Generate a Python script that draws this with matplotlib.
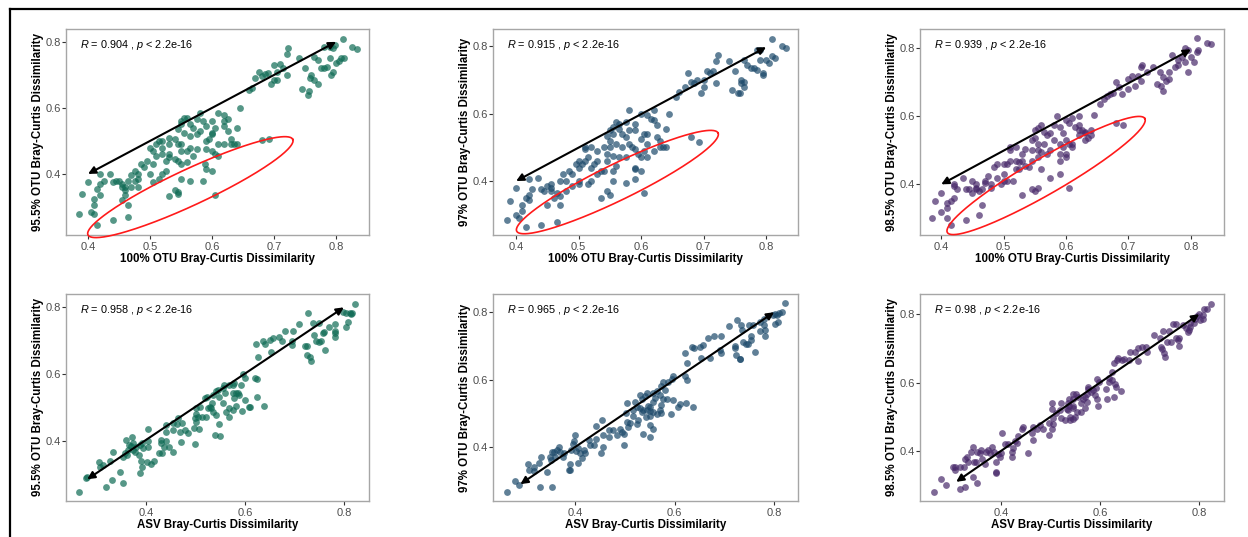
import numpy as np
import matplotlib
matplotlib.use("Agg")
import matplotlib.pyplot as plt
from matplotlib.lines import Line2D

plt.rcParams['font.family'] = ['Liberation Sans', 'DejaVu Sans']
plt.rcParams['mathtext.fontset'] = 'custom'
plt.rcParams['mathtext.rm'] = 'Liberation Sans'
plt.rcParams['mathtext.it'] = 'Liberation Sans:italic'

# ---------------------------------------------------------------- data ----
# 95.5% OTU vs 100% OTU
otu955_vs_otu100 = [
    (0.811, 0.81), (0.826, 0.784), (0.833, 0.777), (0.798, 0.79), (0.79, 0.785), (0.78, 0.785),
    (0.795, 0.78), (0.805, 0.742), (0.813, 0.752), (0.808, 0.752), (0.80, 0.735), (0.79, 0.75),
    (0.795, 0.71), (0.792, 0.70), (0.78, 0.72), (0.775, 0.72), (0.785, 0.725), (0.77, 0.745),
    (0.765, 0.755), (0.76, 0.70), (0.758, 0.69), (0.765, 0.685), (0.77, 0.672), (0.75, 0.72),
    (0.745, 0.657), (0.755, 0.64), (0.757, 0.652), (0.74, 0.75), (0.72, 0.762), (0.723, 0.78),
    (0.71, 0.733), (0.715, 0.72), (0.72, 0.70), (0.70, 0.73), (0.705, 0.71), (0.70, 0.685),
    (0.69, 0.706), (0.685, 0.704), (0.695, 0.672), (0.68, 0.698), (0.675, 0.71), (0.67, 0.69),
    (0.665, 0.66), (0.66, 0.655), (0.705, 0.685),
    (0.645, 0.601), (0.64, 0.54), (0.625, 0.565), (0.62, 0.58), (0.61, 0.585), (0.60, 0.56),
    (0.605, 0.54), (0.62, 0.545), (0.625, 0.53), (0.63, 0.505), (0.635, 0.49), (0.62, 0.49),
    (0.61, 0.49), (0.60, 0.52), (0.60, 0.525), (0.59, 0.545), (0.585, 0.56), (0.58, 0.585),
    (0.575, 0.565), (0.58, 0.53), (0.57, 0.54), (0.565, 0.55), (0.56, 0.57), (0.555, 0.57),
    (0.55, 0.56), (0.55, 0.55), (0.545, 0.535), (0.555, 0.525), (0.565, 0.515), (0.575, 0.52),
    (0.59, 0.50), (0.595, 0.505), (0.59, 0.475), (0.575, 0.475), (0.565, 0.48), (0.56, 0.47),
    (0.55, 0.49), (0.545, 0.49), (0.54, 0.505), (0.53, 0.49), (0.53, 0.51), (0.52, 0.50),
    (0.515, 0.50), (0.505, 0.47), (0.51, 0.455), (0.52, 0.46), (0.525, 0.44), (0.53, 0.45),
    (0.54, 0.445), (0.545, 0.44), (0.55, 0.43), (0.56, 0.435), (0.52, 0.48), (0.60, 0.47),
    (0.61, 0.455), (0.605, 0.46), (0.588, 0.43), (0.59, 0.415), (0.60, 0.41), (0.585, 0.378),
    (0.565, 0.378), (0.55, 0.385), (0.545, 0.345), (0.545, 0.34), (0.54, 0.35), (0.53, 0.332),
    (0.605, 0.335), (0.52, 0.40), (0.515, 0.385), (0.525, 0.41), (0.505, 0.43), (0.495, 0.44),
    (0.49, 0.42), (0.50, 0.40), (0.505, 0.375), (0.48, 0.40), (0.48, 0.385), (0.485, 0.43),
    (0.475, 0.41), (0.47, 0.36), (0.465, 0.38), (0.46, 0.35), (0.455, 0.37), (0.45, 0.38),
    (0.455, 0.36), (0.445, 0.38), (0.44, 0.375), (0.435, 0.40), (0.455, 0.32), (0.46, 0.335),
    (0.465, 0.305), (0.465, 0.27), (0.44, 0.26), (0.425, 0.38), (0.42, 0.37), (0.42, 0.40),
    (0.415, 0.355), (0.42, 0.335), (0.41, 0.325), (0.41, 0.305), (0.405, 0.285), (0.41, 0.28),
    (0.40, 0.375), (0.39, 0.34), (0.385, 0.28), (0.415, 0.245), (0.47, 0.398), (0.48, 0.36),
    (0.46, 0.36), (0.475, 0.38), (0.50, 0.48), (0.57, 0.455), (0.63, 0.49), (0.64, 0.49),
    (0.68, 0.502), (0.692, 0.505), (0.62, 0.56), (0.51, 0.49), (0.53, 0.46), (0.55, 0.47),
]

# 97% OTU vs 100% OTU
otu97_vs_otu100 = [
    (0.81, 0.82), (0.825, 0.80), (0.832, 0.795), (0.79, 0.79), (0.785, 0.79), (0.80, 0.76),
    (0.81, 0.77), (0.815, 0.765), (0.805, 0.75), (0.79, 0.76), (0.795, 0.72), (0.795, 0.715),
    (0.78, 0.735), (0.775, 0.735), (0.785, 0.73), (0.77, 0.745), (0.765, 0.76), (0.76, 0.70),
    (0.76, 0.69), (0.765, 0.695), (0.765, 0.68), (0.755, 0.66), (0.758, 0.66), (0.745, 0.67),
    (0.75, 0.725), (0.74, 0.755), (0.72, 0.755), (0.723, 0.775), (0.715, 0.725), (0.71, 0.72),
    (0.72, 0.69), (0.70, 0.70), (0.705, 0.725), (0.69, 0.70), (0.695, 0.66), (0.70, 0.68),
    (0.68, 0.695), (0.675, 0.72), (0.67, 0.68), (0.66, 0.665), (0.655, 0.65), (0.685, 0.69),
    (0.645, 0.60), (0.64, 0.555), (0.625, 0.565), (0.62, 0.61), (0.61, 0.595), (0.615, 0.585),
    (0.60, 0.60), (0.605, 0.54), (0.61, 0.54), (0.625, 0.53), (0.63, 0.52), (0.635, 0.50),
    (0.62, 0.49), (0.61, 0.51), (0.60, 0.525), (0.59, 0.55), (0.59, 0.57), (0.58, 0.61),
    (0.58, 0.55), (0.575, 0.575), (0.575, 0.53), (0.57, 0.54), (0.565, 0.57), (0.565, 0.555),
    (0.56, 0.575), (0.555, 0.56), (0.55, 0.55), (0.555, 0.54), (0.545, 0.535), (0.55, 0.52),
    (0.56, 0.51), (0.57, 0.50), (0.58, 0.51), (0.585, 0.50), (0.59, 0.495), (0.595, 0.48),
    (0.575, 0.47), (0.565, 0.47), (0.555, 0.475), (0.55, 0.50), (0.54, 0.50), (0.545, 0.48),
    (0.53, 0.49), (0.52, 0.50), (0.51, 0.495), (0.505, 0.45), (0.51, 0.46), (0.515, 0.47),
    (0.52, 0.44), (0.525, 0.45), (0.535, 0.43), (0.54, 0.43), (0.545, 0.46), (0.555, 0.43),
    (0.50, 0.46), (0.60, 0.47), (0.605, 0.49), (0.61, 0.47), (0.59, 0.44), (0.59, 0.435),
    (0.60, 0.43), (0.59, 0.405), (0.575, 0.395), (0.555, 0.40), (0.545, 0.37), (0.55, 0.36),
    (0.535, 0.35), (0.605, 0.365), (0.52, 0.40), (0.515, 0.39), (0.53, 0.42), (0.50, 0.44),
    (0.495, 0.45), (0.49, 0.42), (0.50, 0.39), (0.48, 0.40), (0.485, 0.43), (0.475, 0.42),
    (0.47, 0.40), (0.465, 0.365), (0.46, 0.35), (0.455, 0.37), (0.45, 0.385), (0.455, 0.38),
    (0.445, 0.37), (0.44, 0.375), (0.435, 0.41), (0.45, 0.33), (0.47, 0.33), (0.465, 0.28),
    (0.44, 0.27), (0.425, 0.375), (0.42, 0.36), (0.42, 0.405), (0.415, 0.35), (0.42, 0.345),
    (0.41, 0.33), (0.41, 0.31), (0.40, 0.30), (0.405, 0.29), (0.40, 0.38), (0.39, 0.34),
    (0.385, 0.285), (0.415, 0.265), (0.48, 0.37), (0.49, 0.385), (0.455, 0.39), (0.51, 0.50),
    (0.53, 0.46), (0.56, 0.445), (0.63, 0.50), (0.64, 0.50), (0.68, 0.53), (0.692, 0.515),
    (0.62, 0.58), (0.50, 0.40), (0.47, 0.355),
]

# 98.5% OTU vs 100% OTU
otu985_vs_otu100 = [
    (0.81, 0.83), (0.825, 0.815), (0.832, 0.812), (0.79, 0.80), (0.795, 0.795), (0.81, 0.79),
    (0.812, 0.795), (0.80, 0.775), (0.805, 0.76), (0.795, 0.73), (0.79, 0.76), (0.785, 0.775),
    (0.78, 0.765), (0.775, 0.745), (0.78, 0.75), (0.77, 0.78), (0.765, 0.73), (0.76, 0.705),
    (0.765, 0.71), (0.755, 0.715), (0.755, 0.675), (0.752, 0.69), (0.745, 0.695), (0.75, 0.73),
    (0.74, 0.745), (0.72, 0.745), (0.722, 0.75), (0.715, 0.72), (0.72, 0.705), (0.70, 0.71),
    (0.71, 0.69), (0.70, 0.68), (0.69, 0.665), (0.685, 0.685), (0.68, 0.70), (0.675, 0.67),
    (0.67, 0.665), (0.66, 0.65), (0.665, 0.66), (0.655, 0.635), (0.705, 0.72), (0.73, 0.73),
    (0.645, 0.605), (0.64, 0.56), (0.625, 0.56), (0.62, 0.60), (0.61, 0.595), (0.605, 0.58),
    (0.60, 0.59), (0.615, 0.57), (0.62, 0.575), (0.63, 0.555), (0.635, 0.535), (0.63, 0.53),
    (0.62, 0.545), (0.61, 0.52), (0.60, 0.53), (0.595, 0.55), (0.59, 0.57), (0.585, 0.60),
    (0.58, 0.575), (0.575, 0.55), (0.57, 0.545), (0.565, 0.555), (0.56, 0.575), (0.555, 0.565),
    (0.55, 0.56), (0.55, 0.535), (0.545, 0.53), (0.555, 0.52), (0.565, 0.52), (0.575, 0.50),
    (0.58, 0.53), (0.59, 0.52), (0.595, 0.51), (0.59, 0.49), (0.57, 0.49), (0.56, 0.495),
    (0.555, 0.50), (0.545, 0.50), (0.535, 0.505), (0.53, 0.49), (0.52, 0.51), (0.51, 0.51),
    (0.505, 0.46), (0.51, 0.47), (0.52, 0.47), (0.525, 0.465), (0.535, 0.455), (0.54, 0.45),
    (0.545, 0.47), (0.555, 0.48), (0.50, 0.46), (0.60, 0.48), (0.605, 0.52), (0.61, 0.51),
    (0.59, 0.47), (0.59, 0.43), (0.60, 0.49), (0.575, 0.42), (0.555, 0.39), (0.55, 0.38),
    (0.545, 0.385), (0.53, 0.37), (0.605, 0.39), (0.52, 0.445), (0.515, 0.41), (0.525, 0.445),
    (0.505, 0.41), (0.50, 0.43), (0.49, 0.42), (0.495, 0.40), (0.48, 0.40), (0.485, 0.45),
    (0.475, 0.425), (0.47, 0.41), (0.465, 0.385), (0.46, 0.38), (0.455, 0.39), (0.45, 0.41),
    (0.455, 0.40), (0.445, 0.385), (0.44, 0.385), (0.435, 0.42), (0.45, 0.375), (0.465, 0.34),
    (0.46, 0.31), (0.44, 0.295), (0.425, 0.385), (0.42, 0.395), (0.42, 0.40), (0.415, 0.35),
    (0.42, 0.36), (0.41, 0.345), (0.41, 0.33), (0.40, 0.32), (0.41, 0.30), (0.40, 0.375),
    (0.39, 0.35), (0.385, 0.30), (0.415, 0.28), (0.47, 0.405), (0.48, 0.39), (0.49, 0.46),
    (0.51, 0.50), (0.53, 0.47), (0.56, 0.445), (0.63, 0.55), (0.64, 0.545), (0.68, 0.58),
    (0.692, 0.575), (0.62, 0.56), (0.50, 0.41), (0.455, 0.385),
]

# 95.5% OTU vs ASV
otu955_vs_asv = [
    (0.823, 0.81), (0.799, 0.785), (0.804, 0.782), (0.812, 0.784), (0.815, 0.779), (0.817, 0.782),
    (0.809, 0.755), (0.804, 0.74), (0.782, 0.75), (0.77, 0.742), (0.782, 0.729), (0.782, 0.712),
    (0.782, 0.722), (0.75, 0.752), (0.737, 0.752), (0.727, 0.782), (0.71, 0.75), (0.739, 0.717),
    (0.743, 0.70), (0.75, 0.697), (0.754, 0.70), (0.757, 0.722), (0.76, 0.727), (0.762, 0.672),
    (0.726, 0.684), (0.722, 0.684), (0.725, 0.657), (0.731, 0.65), (0.733, 0.64),
    (0.694, 0.70), (0.694, 0.687), (0.696, 0.728), (0.68, 0.73), (0.675, 0.70), (0.668, 0.712),
    (0.656, 0.707), (0.65, 0.702), (0.653, 0.667), (0.641, 0.69), (0.636, 0.70), (0.622, 0.69),
    (0.626, 0.652), (0.624, 0.585), (0.619, 0.587), (0.624, 0.53), (0.639, 0.505),
    (0.595, 0.60), (0.599, 0.587), (0.592, 0.567), (0.578, 0.572), (0.575, 0.567), (0.582, 0.542),
    (0.585, 0.542), (0.575, 0.542), (0.578, 0.528), (0.587, 0.537), (0.599, 0.523), (0.607, 0.503),
    (0.61, 0.503), (0.594, 0.491), (0.582, 0.505), (0.575, 0.493), (0.568, 0.498), (0.562, 0.488),
    (0.567, 0.471), (0.548, 0.451), (0.55, 0.415), (0.538, 0.418), (0.535, 0.488), (0.54, 0.478),
    (0.531, 0.50), (0.529, 0.503), (0.532, 0.515), (0.548, 0.53), (0.555, 0.515), (0.56, 0.543),
    (0.555, 0.557), (0.567, 0.567), (0.558, 0.567), (0.545, 0.553), (0.541, 0.548), (0.535, 0.538),
    (0.523, 0.53), (0.518, 0.528), (0.525, 0.498), (0.52, 0.473), (0.513, 0.473), (0.508, 0.503),
    (0.50, 0.50), (0.505, 0.471), (0.498, 0.468), (0.506, 0.435), (0.496, 0.438), (0.484, 0.425),
    (0.478, 0.433), (0.498, 0.391), (0.501, 0.481), (0.50, 0.458), (0.472, 0.455), (0.467, 0.428),
    (0.454, 0.433), (0.461, 0.451), (0.453, 0.453), (0.44, 0.428), (0.44, 0.448), (0.464, 0.468),
    (0.47, 0.398), (0.454, 0.368), (0.445, 0.383), (0.44, 0.401), (0.435, 0.383), (0.43, 0.404),
    (0.43, 0.393), (0.432, 0.363), (0.426, 0.365), (0.415, 0.34), (0.41, 0.331), (0.401, 0.337),
    (0.404, 0.401), (0.404, 0.383), (0.403, 0.436), (0.393, 0.378), (0.39, 0.395), (0.387, 0.388),
    (0.385, 0.358), (0.388, 0.341), (0.39, 0.323), (0.387, 0.305), (0.378, 0.381), (0.376, 0.368),
    (0.372, 0.373), (0.368, 0.385), (0.365, 0.389), (0.358, 0.403), (0.363, 0.373), (0.361, 0.358),
    (0.356, 0.365), (0.353, 0.353), (0.346, 0.308), (0.352, 0.273), (0.333, 0.368), (0.327, 0.341),
    (0.33, 0.283), (0.318, 0.263), (0.304, 0.338), (0.312, 0.328), (0.306, 0.323), (0.28, 0.293),
    (0.277, 0.288), (0.264, 0.248), (0.37, 0.413), (0.373, 0.393),
]

# 97% OTU vs ASV
otu97_vs_asv = [
    (0.821, 0.827), (0.815, 0.802), (0.81, 0.799), (0.806, 0.792), (0.801, 0.795), (0.797, 0.792),
    (0.808, 0.772), (0.801, 0.765), (0.78, 0.779), (0.78, 0.762), (0.781, 0.748), (0.781, 0.728),
    (0.771, 0.772), (0.771, 0.743), (0.758, 0.762), (0.75, 0.762), (0.754, 0.728), (0.754, 0.718),
    (0.748, 0.706), (0.743, 0.706), (0.761, 0.683), (0.738, 0.713), (0.736, 0.748), (0.726, 0.777),
    (0.734, 0.762), (0.71, 0.759), (0.721, 0.70), (0.721, 0.693), (0.723, 0.673), (0.731, 0.66),
    (0.732, 0.66), (0.693, 0.728), (0.693, 0.68), (0.691, 0.688), (0.679, 0.728), (0.668, 0.723),
    (0.671, 0.663), (0.657, 0.703), (0.654, 0.663), (0.652, 0.696), (0.639, 0.693), (0.634, 0.696),
    (0.621, 0.68), (0.625, 0.65), (0.625, 0.599), (0.621, 0.612), (0.623, 0.532), (0.637, 0.518),
    (0.597, 0.612), (0.595, 0.602), (0.587, 0.592), (0.577, 0.592), (0.572, 0.582), (0.581, 0.569),
    (0.577, 0.542), (0.585, 0.542), (0.57, 0.555), (0.564, 0.565), (0.557, 0.559), (0.56, 0.545),
    (0.557, 0.535), (0.572, 0.525), (0.57, 0.51), (0.565, 0.498), (0.572, 0.502), (0.592, 0.498),
    (0.597, 0.539), (0.607, 0.519), (0.611, 0.529), (0.55, 0.52), (0.547, 0.522), (0.544, 0.56),
    (0.54, 0.552), (0.53, 0.555), (0.534, 0.543), (0.52, 0.535), (0.517, 0.51), (0.524, 0.52),
    (0.53, 0.515), (0.534, 0.505), (0.537, 0.51), (0.544, 0.51), (0.55, 0.508), (0.542, 0.49),
    (0.55, 0.493), (0.557, 0.505), (0.55, 0.465), (0.557, 0.455), (0.55, 0.43), (0.536, 0.44),
    (0.524, 0.468), (0.527, 0.48), (0.507, 0.46), (0.504, 0.475), (0.51, 0.472), (0.517, 0.492),
    (0.504, 0.531), (0.502, 0.50), (0.498, 0.438), (0.49, 0.455), (0.494, 0.445), (0.498, 0.406),
    (0.484, 0.437), (0.477, 0.45), (0.469, 0.452), (0.469, 0.431), (0.456, 0.435), (0.454, 0.48),
    (0.442, 0.462), (0.457, 0.401), (0.452, 0.383), (0.442, 0.423), (0.438, 0.406), (0.43, 0.406),
    (0.427, 0.421), (0.42, 0.381), (0.417, 0.391), (0.413, 0.369), (0.405, 0.354), (0.402, 0.389),
    (0.40, 0.436), (0.398, 0.419), (0.396, 0.41), (0.391, 0.391), (0.39, 0.351), (0.39, 0.332),
    (0.387, 0.332), (0.378, 0.383), (0.375, 0.371), (0.37, 0.386), (0.367, 0.399), (0.363, 0.391),
    (0.36, 0.371), (0.357, 0.386), (0.353, 0.386), (0.35, 0.371), (0.351, 0.361), (0.343, 0.327),
    (0.353, 0.282), (0.33, 0.282), (0.318, 0.342), (0.317, 0.33), (0.327, 0.354), (0.308, 0.332),
    (0.305, 0.351), (0.288, 0.287), (0.28, 0.30), (0.264, 0.267), (0.331, 0.371), (0.41, 0.383),
    (0.405, 0.396),
]

# 98.5% OTU vs ASV
otu985_vs_asv = [
    (0.823, 0.83), (0.815, 0.815), (0.81, 0.815), (0.807, 0.798), (0.80, 0.801), (0.796, 0.795),
    (0.808, 0.786), (0.801, 0.783), (0.791, 0.786), (0.789, 0.774), (0.782, 0.774), (0.782, 0.764),
    (0.779, 0.754), (0.777, 0.749), (0.774, 0.759), (0.767, 0.769), (0.754, 0.772), (0.747, 0.772),
    (0.76, 0.73), (0.754, 0.73), (0.757, 0.725), (0.76, 0.707), (0.743, 0.72), (0.736, 0.72),
    (0.74, 0.752), (0.727, 0.752), (0.72, 0.73), (0.723, 0.705), (0.725, 0.698), (0.73, 0.688),
    (0.732, 0.674), (0.709, 0.74), (0.692, 0.703), (0.694, 0.69), (0.684, 0.705), (0.676, 0.70),
    (0.671, 0.69), (0.676, 0.663), (0.659, 0.667), (0.661, 0.69), (0.649, 0.67), (0.644, 0.667),
    (0.637, 0.673), (0.635, 0.666), (0.628, 0.658), (0.624, 0.632), (0.619, 0.613), (0.618, 0.603),
    (0.624, 0.608), (0.63, 0.596), (0.632, 0.586), (0.643, 0.576), (0.628, 0.558), (0.615, 0.553),
    (0.613, 0.581), (0.593, 0.61), (0.597, 0.603), (0.592, 0.583), (0.586, 0.578), (0.581, 0.573),
    (0.576, 0.588), (0.576, 0.58), (0.574, 0.568), (0.59, 0.563), (0.593, 0.553), (0.595, 0.533),
    (0.574, 0.543), (0.569, 0.558), (0.565, 0.553), (0.561, 0.541), (0.556, 0.558), (0.551, 0.568),
    (0.545, 0.566), (0.546, 0.553), (0.538, 0.553), (0.536, 0.541), (0.545, 0.527), (0.538, 0.531),
    (0.533, 0.524), (0.546, 0.533), (0.554, 0.515), (0.561, 0.515), (0.569, 0.527), (0.55, 0.50),
    (0.546, 0.493), (0.54, 0.50), (0.522, 0.539), (0.519, 0.52), (0.522, 0.498), (0.529, 0.49),
    (0.54, 0.49), (0.536, 0.52), (0.512, 0.51), (0.506, 0.496), (0.506, 0.479), (0.503, 0.463),
    (0.504, 0.541), (0.504, 0.522), (0.497, 0.481), (0.498, 0.447), (0.485, 0.463), (0.479, 0.476),
    (0.472, 0.463), (0.465, 0.471), (0.465, 0.432), (0.462, 0.452), (0.455, 0.393), (0.445, 0.471),
    (0.442, 0.463), (0.435, 0.444), (0.432, 0.424), (0.428, 0.43), (0.425, 0.408), (0.422, 0.398),
    (0.422, 0.383), (0.415, 0.422), (0.408, 0.422), (0.403, 0.452), (0.401, 0.395), (0.399, 0.383),
    (0.395, 0.39), (0.391, 0.368), (0.39, 0.339), (0.386, 0.398), (0.383, 0.413), (0.378, 0.393),
    (0.374, 0.403), (0.37, 0.398), (0.368, 0.363), (0.361, 0.403), (0.358, 0.393), (0.351, 0.396),
    (0.35, 0.369), (0.346, 0.369), (0.343, 0.413), (0.339, 0.398), (0.331, 0.383), (0.334, 0.369),
    (0.327, 0.378), (0.325, 0.354), (0.317, 0.352), (0.308, 0.354), (0.304, 0.354), (0.308, 0.344),
    (0.327, 0.296), (0.318, 0.289), (0.344, 0.324), (0.352, 0.307), (0.29, 0.301), (0.28, 0.319),
    (0.265, 0.281), (0.391, 0.335), (0.363, 0.376),
]

# Pearson R shown in each panel
r_values = [0.904, 0.915, 0.939, 0.958, 0.965, 0.98]

x_titles = ["100% OTU Bray-Curtis Dissimilarity"] * 3 + ["ASV Bray-Curtis Dissimilarity"] * 3
y_titles = ["95.5% OTU Bray-Curtis Dissimilarity", "97% OTU Bray-Curtis Dissimilarity",
            "98.5% OTU Bray-Curtis Dissimilarity"] * 2

# --------------------------------------------------------------- layout ---
W, H = 1248, 537
col_px = [(66, 369), (493, 798), (920, 1224)]
row_px = [(29, 235), (294, 501)]

point_colors = ['#0f6b55', '#1d4a6b', '#48296a']

panels = [otu955_vs_otu100, otu97_vs_otu100, otu985_vs_otu100,
          otu955_vs_asv, otu97_vs_asv, otu985_vs_asv]

xlims = [(0.3645, 0.853), (0.363, 0.851), (0.366, 0.853),
         (0.237, 0.851), (0.235, 0.848), (0.237, 0.850)]
ylims = [(0.215, 0.839), (0.240, 0.851), (0.251, 0.857),
         (0.220, 0.840), (0.240, 0.854), (0.254, 0.859)]

# double-headed guide arrows (start, end)
arrows = [((0.40, 0.40), (0.80, 0.80)), ((0.40, 0.40), (0.80, 0.797)), ((0.40, 0.40), (0.80, 0.797)),
          ((0.28, 0.285), (0.80, 0.80)), ((0.29, 0.29), (0.80, 0.80)), ((0.31, 0.31), (0.80, 0.80))]

# red rings on the top row: centre (data), semi-axes (px), angle (deg)
rings = [((0.565, 0.36), 113, 18, 25.0),
         ((0.562, 0.397), 112, 18, 26.0),
         ((0.568, 0.426), 114, 18, 30.0)]


def draw_ring(ax, centre, a_px, b_px, angle):
    t = np.linspace(0, 2 * np.pi, 300)
    cx, cy = ax.transData.transform(centre)
    th = np.deg2rad(angle)
    px = cx + a_px * np.cos(t) * np.cos(th) - b_px * np.sin(t) * np.sin(th)
    py = cy + a_px * np.cos(t) * np.sin(th) + b_px * np.sin(t) * np.cos(th)
    pts = ax.transData.inverted().transform(np.column_stack([px, py]))
    ax.plot(pts[:, 0], pts[:, 1], color='#ff1a1a', lw=1.2, clip_on=False, zorder=4)


fig = plt.figure(figsize=(W / 100, H / 100), dpi=100)

for i, pts in enumerate(panels):
    row, col = divmod(i, 3)
    x0, x1 = col_px[col]
    y0, y1 = row_px[row]
    ax = fig.add_axes([x0 / W, 1 - y1 / H, (x1 - x0) / W, (y1 - y0) / H])
    xs, ys = zip(*pts)
    ax.scatter(xs, ys, s=24, color=point_colors[col], alpha=0.7, linewidths=0, zorder=2)
    ax.set_xlim(*xlims[i])
    ax.set_ylim(*ylims[i])

    if row == 0:
        ax.set_xticks([0.4, 0.5, 0.6, 0.7, 0.8])
    else:
        ax.set_xticks([0.4, 0.6, 0.8])
    ax.set_yticks([0.4, 0.6, 0.8])
    ax.tick_params(direction='out', length=3, width=0.8, color='#333333',
                   labelsize=8, labelcolor='#4d4d4d')
    ax.tick_params(axis='x', pad=2.2)
    ax.tick_params(axis='y', pad=0.6)
    for sp in ax.spines.values():
        sp.set_color('#a6a6a6')
        sp.set_linewidth(1.0)

    ax.set_xlabel(x_titles[i], fontsize=8.3, fontweight='bold', color='black')
    ax.set_ylabel(y_titles[i], fontsize=8.3, fontweight='bold', color='black')
    ax.xaxis.set_label_coords(0.5, -0.088)
    ax.yaxis.set_label_coords(-0.073, 0.5)

    ax.text(0.046, 0.922, r"$\it{R}$ = %s , $\it{p}$ < 2.2e-16" % r_values[i],
            transform=ax.transAxes, fontsize=7.8, ha='left', va='center')

    (sx, sy), (ex, ey) = arrows[i]
    ax.annotate('', xy=(ex, ey), xytext=(sx, sy),
                arrowprops=dict(arrowstyle='<|-|>', color='black', lw=1.5,
                                mutation_scale=11, shrinkA=0, shrinkB=0), zorder=5)

    if row == 0:
        centre, a_px, b_px, ang = rings[col]
        draw_ring(ax, centre, a_px, b_px, ang)

# outer frame
fig.add_artist(Line2D([10 / W, 1], [1 - 9 / H, 1 - 9 / H], color='black', lw=1.6,
                      transform=fig.transFigure))
fig.add_artist(Line2D([10 / W, 10 / W], [0, 1 - 9 / H], color='black', lw=1.6,
                      transform=fig.transFigure))

fig.savefig("out.png", dpi=100)
